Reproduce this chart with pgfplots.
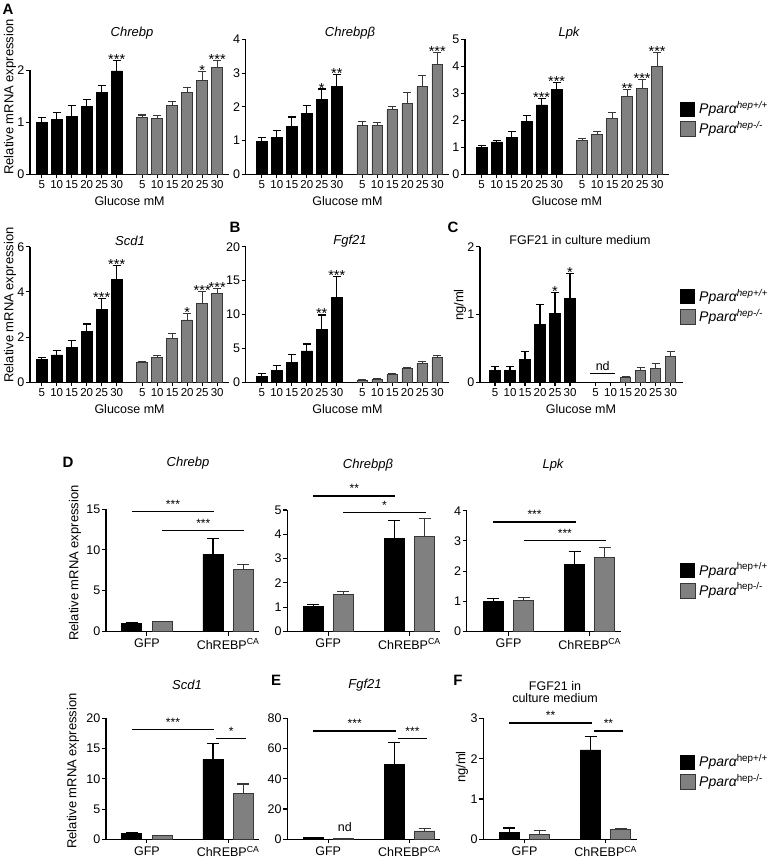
\documentclass[border=0pt]{standalone}
\usepackage{pgfplots}
\pgfplotsset{compat=1.18}
\usepackage{fontspec}
\setmainfont{Liberation Sans}
\definecolor{bargray}{RGB}{128,128,128}
\definecolor{edgegray}{RGB}{55,55,55}
\newcommand{\fs}[1]{\fontsize{#1}{#1}\selectfont}
\pgfplotsset{
  prism/.style={
    anchor=south west,
    axis x line*=bottom, axis y line*=left,
    axis line style={-, line width=1.2pt, black},
    tick align=outside, major tick length=4pt,
    tick style={black, line width=1.1pt},
    /pgf/number format/assume math mode=true,
    yticklabel style={font=\fs{12.5}, inner sep=1.5pt},
    xticklabel style={font=\fs{11.5}, inner sep=2pt},
    clip=false, enlargelimits=false, ymin=0,
    scaled y ticks=false,
  },
  top/.style={prism, x=15pt, xmax=12.5, /pgf/bar width=0.71,
    xtick={0,1,2,3,4,5,6.7,7.7,8.7,9.7,10.7,11.7},
    xticklabels={5,10,15,20,25,30,5,10,15,20,25,30}},
  bot/.style={prism, x=30.3pt, xmax=4.2, /pgf/bar width=0.66,
    xtick={0.5,3.18}, xticklabels={GFP,ChREBP\textsuperscript{CA}},
    xticklabel style={font=\fs{12.5}, inner sep=3pt}},
  blk/.style={ybar, bar shift=0pt, fill=black, draw=black, line width=0.6pt,
    error bars/.cd, y dir=plus, y explicit,
    error bar style={line width=1.1pt, black},
    error mark options={rotate=90, line width=1.1pt, black, mark size=#1}},
  blk/.default=4pt,
  gry/.style={ybar, bar shift=0pt, fill=bargray, draw=edgegray, line width=0.8pt,
    error bars/.cd, y dir=plus, y explicit,
    error bar style={line width=1.1pt, edgegray},
    error mark options={rotate=90, line width=1.1pt, edgegray, mark size=#1}},
  gry/.default=4pt,
}
% significance star above an error bar
\newcommand{\sg}[3]{\node[font=\fs{14.5}, anchor=base, inner sep=0pt, yshift=-4pt] at (axis cs:#1,#2) {#3};}
% significance bracket line with stars
\newcommand{\sgl}[4]{\draw[line width=1.4pt] (axis cs:#1,#3) -- (axis cs:#2,#3);
  \node[font=\fs{12}, anchor=base, inner sep=0pt, yshift=3pt] at (axis cs:{(#1+#2)/2},#3) {#4};}
\begin{document}
\begin{tikzpicture}
\useasboundingbox (0pt,0pt) rectangle (773pt,-860pt);

% ---------------- Row 1 ----------------
\begin{axis}[top, at={(30pt,-174.3pt)}, xmin=-0.78, y=52pt, ymax=2, ytick={0,1,2}]
\addplot[blk] table[x=x,y=y,y error=e,row sep=\\]{x y e\\ 0 1.00 0.09\\ 1 1.05 0.13\\ 2 1.12 0.20\\ 3 1.31 0.13\\ 4 1.57 0.13\\ 5 1.99 0.20\\};
\addplot[gry] table[x=x,y=y,y error=e,row sep=\\]{x y e\\ 6.7 1.09 0.05\\ 7.7 1.07 0.06\\ 8.7 1.32 0.08\\ 9.7 1.57 0.10\\ 10.7 1.80 0.17\\ 11.7 2.05 0.13\\};
\sg{5}{2.19}{***}\sg{10.7}{1.97}{*}\sg{11.7}{2.18}{***}
\end{axis}

\begin{axis}[top, at={(245.7pt,-174.3pt)}, xmin=-1.07, y=33.7pt, ymax=4, ytick={0,1,2,3,4}]
\addplot[blk] table[x=x,y=y,y error=e,row sep=\\]{x y e\\ 0 0.97 0.12\\ 1 1.09 0.21\\ 2 1.42 0.28\\ 3 1.81 0.22\\ 4 2.23 0.30\\ 5 2.60 0.35\\};
\addplot[gry] table[x=x,y=y,y error=e,row sep=\\]{x y e\\ 6.7 1.45 0.11\\ 7.7 1.45 0.09\\ 8.7 1.92 0.08\\ 9.7 2.09 0.35\\ 10.7 2.60 0.32\\ 11.7 3.26 0.36\\};
\sg{4}{2.53}{*}\sg{5}{2.95}{**}\sg{11.7}{3.62}{***}
\end{axis}

\begin{axis}[top, at={(465pt,-174.3pt)}, xmin=-1.11, y=27pt, ymax=5, ytick={0,1,2,3,4,5}]
\addplot[blk] table[x=x,y=y,y error=e,row sep=\\]{x y e\\ 0 1.00 0.06\\ 1 1.20 0.06\\ 2 1.36 0.21\\ 3 1.96 0.23\\ 4 2.57 0.23\\ 5 3.14 0.27\\};
\addplot[gry] table[x=x,y=y,y error=e,row sep=\\]{x y e\\ 6.7 1.25 0.07\\ 7.7 1.48 0.09\\ 8.7 2.06 0.24\\ 9.7 2.88 0.25\\ 10.7 3.19 0.32\\ 11.7 3.99 0.51\\};
\sg{4}{2.80}{***}\sg{5}{3.41}{***}\sg{9.7}{3.13}{**}\sg{10.7}{3.51}{***}\sg{11.7}{4.50}{***}
\end{axis}

% ---------------- Row 2 ----------------
\begin{axis}[top, at={(30pt,-382.3pt)}, xmin=-0.78, y=22.6pt, ymax=6, ytick={0,2,4,6}]
\addplot[blk] table[x=x,y=y,y error=e,row sep=\\]{x y e\\ 0 1.02 0.07\\ 1 1.21 0.21\\ 2 1.55 0.29\\ 3 2.26 0.32\\ 4 3.24 0.46\\ 5 4.56 0.62\\};
\addplot[gry] table[x=x,y=y,y error=e,row sep=\\]{x y e\\ 6.7 0.88 0.05\\ 7.7 1.09 0.09\\ 8.7 1.95 0.20\\ 9.7 2.76 0.28\\ 10.7 3.48 0.52\\ 11.7 3.94 0.22\\};
\sg{4}{3.70}{***}\sg{5}{5.18}{***}\sg{9.7}{3.04}{*}\sg{10.7}{4.00}{***}\sg{11.7}{4.16}{***}
\end{axis}

\begin{axis}[top, at={(245.7pt,-382.3pt)}, xmin=-1.07, y=6.78pt, ymax=20, ytick={0,5,10,15,20}]
\addplot[blk] table[x=x,y=y,y error=e,row sep=\\]{x y e\\ 0 0.93 0.34\\ 1 1.81 0.64\\ 2 2.99 1.08\\ 3 4.62 1.03\\ 4 7.81 2.12\\ 5 12.58 3.00\\};
\addplot[gry] table[x=x,y=y,y error=e,row sep=\\]{x y e\\ 6.7 0.30 0.08\\ 7.7 0.45 0.08\\ 8.7 1.10 0.15\\ 9.7 2.10 0.15\\ 10.7 2.80 0.22\\ 11.7 3.60 0.30\\};
\sg{4}{9.93}{**}\sg{5}{15.58}{***}
\end{axis}

\begin{axis}[top, at={(480pt,-382.3pt)}, xmin=-1.0, y=67.8pt, ymax=2, ytick={0,1,2}]
\addplot[blk] table[x=x,y=y,y error=e,row sep=\\]{x y e\\ 0 0.17 0.06\\ 1 0.17 0.06\\ 2 0.34 0.12\\ 3 0.85 0.30\\ 4 1.02 0.31\\ 5 1.24 0.37\\};
\addplot[gry] table[x=x,y=y,y error=e,row sep=\\]{x y e\\ 8.7 0.07 0.02\\ 9.7 0.17 0.05\\ 10.7 0.21 0.07\\ 11.7 0.38 0.08\\};
\sg{4}{1.33}{*}\sg{5}{1.61}{*}
\draw[line width=1.2pt] (axis cs:6.33,0.13) -- (axis cs:8.0,0.13);
\node[font=\fs{12.5}] at (axis cs:7.18,0.245) {nd};
\end{axis}

% ---------------- Row D ----------------
\begin{axis}[bot, at={(106pt,-631.5pt)}, xmin=-0.85, y=8.16pt, ymax=15, ytick={0,5,10,15}]
\addplot[blk=6pt] table[x=x,y=y,y error=e,row sep=\\]{x y e\\ 0 1.00 0.06\\ 2.68 9.46 1.91\\};
\addplot[gry=6pt] table[x=x,y=y,y error=e,row sep=\\]{x y e\\ 1 1.20 0.08\\ 3.68 7.62 0.61\\};
\sgl{0}{2.72}{14.7}{***}\sgl{1}{3.72}{12.4}{***}
\end{axis}

\begin{axis}[bot, at={(287.3pt,-631.5pt)}, xmin=-0.85, y=24.3pt, ymax=5, ytick={0,1,2,3,4,5}]
\addplot[blk=6pt] table[x=x,y=y,y error=e,row sep=\\]{x y e\\ 0 1.02 0.11\\ 2.68 3.83 0.73\\};
\addplot[gry=6pt] table[x=x,y=y,y error=e,row sep=\\]{x y e\\ 1 1.53 0.12\\ 3.68 3.90 0.76\\};
\sgl{0}{2.72}{5.58}{**}\sgl{1}{3.72}{4.89}{*}
\end{axis}

\begin{axis}[bot, at={(466.7pt,-631.5pt)}, xmin=-0.88, y=30.2pt, ymax=4, ytick={0,1,2,3,4}]
\addplot[blk=6pt] table[x=x,y=y,y error=e,row sep=\\]{x y e\\ 0 1.00 0.08\\ 2.68 2.23 0.41\\};
\addplot[gry=6pt] table[x=x,y=y,y error=e,row sep=\\]{x y e\\ 1 1.02 0.11\\ 3.68 2.44 0.33\\};
\sgl{0}{2.72}{3.63}{***}\sgl{1}{3.72}{3.02}{***}
\end{axis}

% ---------------- Row E ----------------
\begin{axis}[bot, at={(106pt,-839.3pt)}, xmin=-0.85, y=6.05pt, ymax=20, ytick={0,5,10,15,20}]
\addplot[blk=6pt] table[x=x,y=y,y error=e,row sep=\\]{x y e\\ 0 1.00 0.10\\ 2.68 13.2 2.70\\};
\addplot[gry=6pt] table[x=x,y=y,y error=e,row sep=\\]{x y e\\ 1 0.60 0.10\\ 3.68 7.60 1.55\\};
\sgl{0}{2.72}{18.2}{***}\sgl{2.78}{3.78}{16.7}{*}
\end{axis}

\begin{axis}[bot, at={(287.3pt,-839.3pt)}, xmin=-0.85, y=1.515pt, ymax=80, ytick={0,20,40,60,80}]
\addplot[blk=6pt] table[x=x,y=y,y error=e,row sep=\\]{x y e\\ 0 1.00 0.20\\ 2.68 49.5 14.3\\};
\addplot[gry=6pt] table[x=x,y=y,y error=e,row sep=\\]{x y e\\ 1 0.40 0\\ 3.68 5.50 1.70\\};
\sgl{0}{2.75}{71.6}{***}\sgl{2.8}{3.76}{66.7}{***}
\node[font=\fs{12.5}] at (axis cs:1.05,8.3) {nd};
\end{axis}

\begin{axis}[bot, at={(483.3pt,-839.3pt)}, xmin=-0.86, y=40.3pt, ymax=3, ytick={0,1,2,3}]
\addplot[blk=6pt] table[x=x,y=y,y error=e,row sep=\\]{x y e\\ 0 0.17 0.11\\ 2.68 2.22 0.32\\};
\addplot[gry=6pt] table[x=x,y=y,y error=e,row sep=\\]{x y e\\ 1 0.12 0.09\\ 3.68 0.24 0.03\\};
\sgl{0}{2.72}{2.89}{**}\sgl{2.8}{3.74}{2.69}{**}
\end{axis}

% ---------------- texts ----------------
\foreach \x/\y/\t in {8/9/A, 235/227/B, 453/227/C, 68/462/D, 276/680/E, 458/680/F}
  \node[font=\fs{15}\bfseries] at (\x pt,-\y pt) {\t};

\node[font=\fs{13}\itshape] at (132pt,-33pt) {Chrebp};
\node[font=\fs{13}\itshape] at (350pt,-33pt) {Chrebpβ};
\node[font=\fs{13}\itshape] at (569pt,-33pt) {Lpk};
\node[font=\fs{13}\itshape] at (130pt,-241pt) {Scd1};
\node[font=\fs{13}\itshape] at (350pt,-241pt) {Fgf21};
\node[font=\fs{12.5}] at (580pt,-240pt) {FGF21 in culture medium};
\node[font=\fs{13}\itshape] at (188pt,-463pt) {Chrebp};
\node[font=\fs{13}\itshape] at (368pt,-465pt) {Chrebpβ};
\node[font=\fs{13}\itshape] at (553pt,-465pt) {Lpk};
\node[font=\fs{13}\itshape] at (187pt,-685pt) {Scd1};
\node[font=\fs{13}\itshape] at (365pt,-685pt) {Fgf21};
\node[font=\fs{12.5}, align=center] at (555pt,-692pt) {FGF21 in\\culture medium};

\node[rotate=90, font=\fs{13}] at (10pt,-97pt) {Relative mRNA expression};
\node[rotate=90, font=\fs{13}] at (10pt,-305pt) {Relative mRNA expression};
\node[rotate=90, font=\fs{13}] at (460pt,-305pt) {ng/ml};
\node[rotate=90, font=\fs{13}] at (75pt,-563pt) {Relative mRNA expression};
\node[rotate=90, font=\fs{13}] at (73pt,-771pt) {Relative mRNA expression};
\node[rotate=90, font=\fs{13}] at (462pt,-767pt) {ng/ml};

\foreach \x/\y in {129.6/201.3, 347.5/201.3, 567/201.3, 129.6/409.3, 347.5/409.3, 581/409.3}
  \node[font=\fs{12.5}] at (\x pt,-\y pt) {Glucose mM};

% legends
\foreach \yb/\ii in {109.2/1, 296.7/1, 570.5/0, 762/0}{
  \fill[black] (680pt,-\yb pt+7.5pt) rectangle (695pt,-\yb pt-7.5pt);
  \filldraw[fill=bargray, draw=edgegray, line width=0.8pt] (680pt,-\yb pt-12.5pt) rectangle (695pt,-\yb pt-27.5pt);
  \node[anchor=west, font=\fs{14}, inner sep=0pt] at (699pt,-\yb pt) {\itshape Pparα\textsuperscript{\ifnum\ii=1 \itshape\else\upshape\fi hep+/+}};
  \node[anchor=west, font=\fs{14}, inner sep=0pt] at (699pt,-\yb pt-20pt) {\itshape Pparα\textsuperscript{\ifnum\ii=1 \itshape\else\upshape\fi hep-/-}};
}
\end{tikzpicture}
\end{document}
